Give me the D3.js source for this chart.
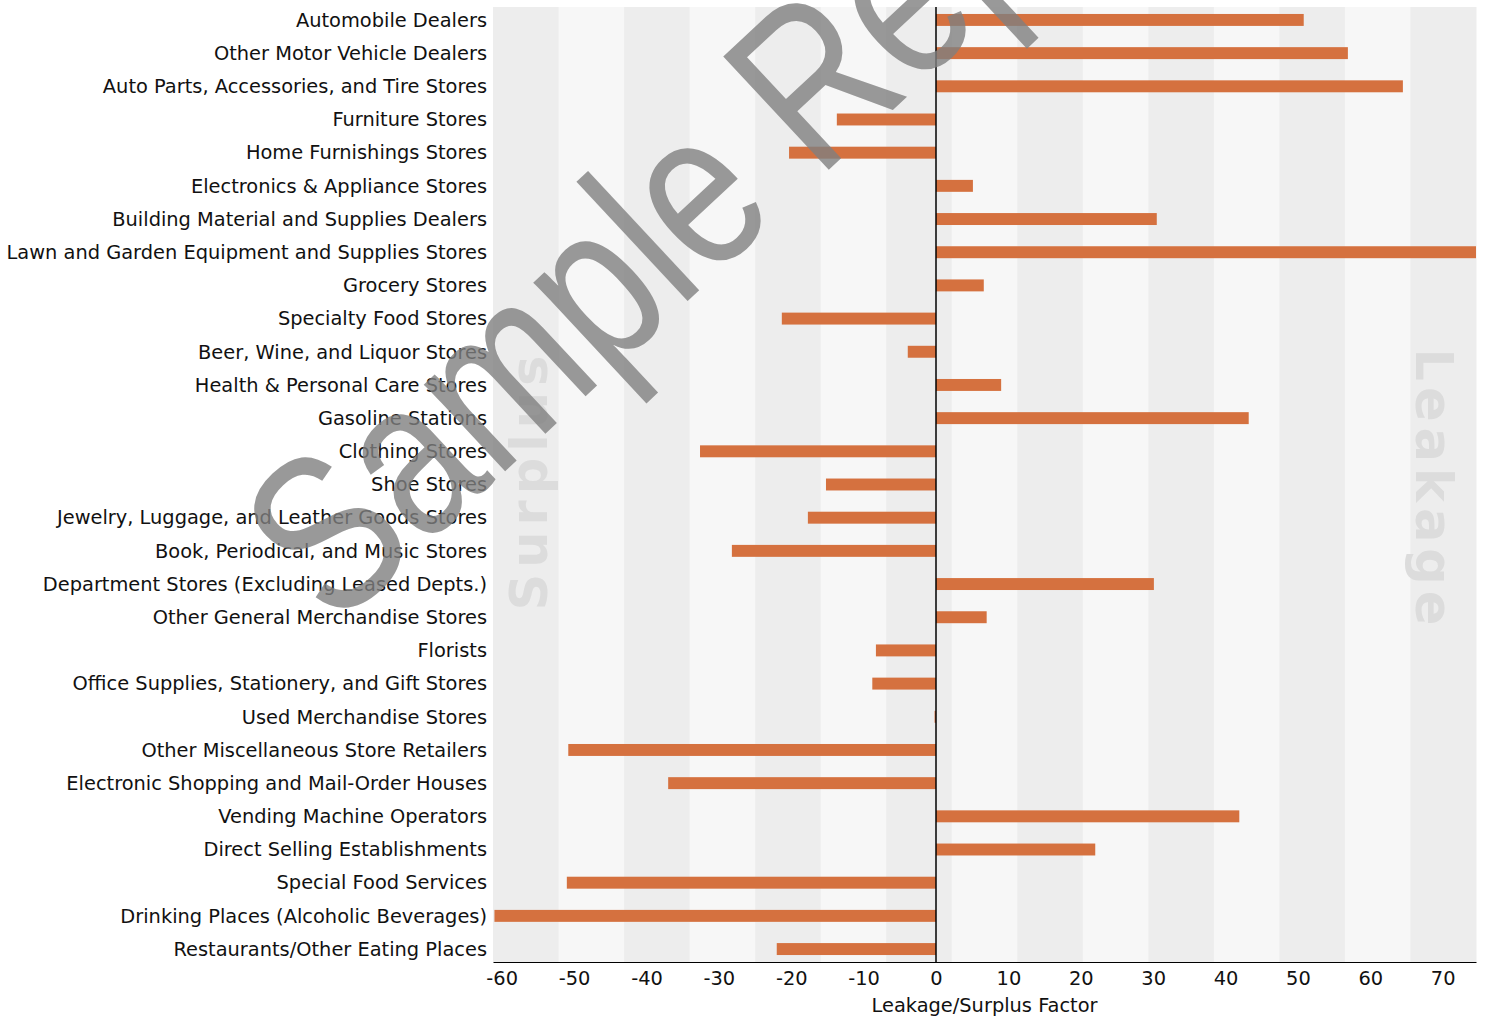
<!DOCTYPE html>
<html>
<head>
<meta charset="utf-8">
<script src="https://d3js.org/d3.v7.min.js"></script>
<style>
  body { margin: 0; background: #fff; }
  svg { display: block; }
  text { font-family: "DejaVu Sans", Verdana, sans-serif; }
</style>
</head>
<body>
<svg id="chart" width="1486" height="1016"></svg>
<script>
var categories = [
  'Automobile Dealers',
  'Other Motor Vehicle Dealers',
  'Auto Parts, Accessories, and Tire Stores',
  'Furniture Stores',
  'Home Furnishings Stores',
  'Electronics & Appliance Stores',
  'Building Material and Supplies Dealers',
  'Lawn and Garden Equipment and Supplies Stores',
  'Grocery Stores',
  'Specialty Food Stores',
  'Beer, Wine, and Liquor Stores',
  'Health & Personal Care Stores',
  'Gasoline Stations',
  'Clothing Stores',
  'Shoe Stores',
  'Jewelry, Luggage, and Leather Goods Stores',
  'Book, Periodical, and Music Stores',
  'Department Stores (Excluding Leased Depts.)',
  'Other General Merchandise Stores',
  'Florists',
  'Office Supplies, Stationery, and Gift Stores',
  'Used Merchandise Stores',
  'Other Miscellaneous Store Retailers',
  'Electronic Shopping and Mail-Order Houses',
  'Vending Machine Operators',
  'Direct Selling Establishments',
  'Special Food Services',
  'Drinking Places (Alcoholic Beverages)',
  'Restaurants/Other Eating Places'
];

var factors = [
  50.8, 56.9, 64.5, -13.7, -20.3, 5.1, 30.5, 75.0, 6.6, -21.3,
  -3.9, 9.0, 43.2, -32.6, -15.2, -17.7, -28.2, 30.1, 7.0, -8.3,
  -8.8, -0.2, -50.8, -37.0, 41.9, 22.0, -51.0, -61.0, -22.0
];

var xTicks = [-60, -50, -40, -30, -20, -10, 0, 10, 20, 30, 40, 50, 60, 70];
var xDomain = [-61.2, 74.6];

(function () {
  var svg = d3.select('#chart'),
      pl = 493, pr = 1476, pt = 7, pb = 962;

  var x = d3.scaleLinear().domain(xDomain).range([pl, pr]);
  var y = d3.scaleBand().domain(categories).range([pt, pb])
    .paddingInner(0.64).paddingOuter(0.21);

  svg.append('clipPath').attr('id', 'plotclip')
    .append('rect').attr('x', pl).attr('y', pt)
    .attr('width', pr - pl).attr('height', pb - pt);

  // alternating background stripes
  var nStripes = 15, sw = (pr - pl) / nStripes;
  svg.append('g').selectAll('rect')
    .data(d3.range(nStripes))
    .join('rect')
    .attr('x', function (i) { return pl + i * sw; })
    .attr('y', pt)
    .attr('width', sw + 0.5)
    .attr('height', pb - pt)
    .attr('fill', function (i) { return i % 2 ? '#f7f7f7' : '#ededed'; });

  // faint side labels
  svg.append('text')
    .attr('transform', 'translate(547,480) rotate(-90)')
    .attr('text-anchor', 'middle')
    .style('font-weight', 'bold').style('font-size', '51px')
    .style('letter-spacing', '6px')
    .attr('fill', '#dcdcdc')
    .text('Surplus');

  svg.append('text')
    .attr('transform', 'translate(1416,490) rotate(90)')
    .attr('text-anchor', 'middle')
    .style('font-weight', 'bold').style('font-size', '51px')
    .style('letter-spacing', '6px')
    .attr('fill', '#dcdcdc')
    .text('Leakage');

  // bars
  svg.append('g').attr('clip-path', 'url(#plotclip)')
    .selectAll('rect')
    .data(factors)
    .join('rect')
    .attr('x', function (d) { return x(Math.min(0, d)); })
    .attr('y', function (d, i) { return y(categories[i]); })
    .attr('width', function (d) { return Math.abs(x(d) - x(0)); })
    .attr('height', y.bandwidth())
    .attr('fill', '#d5713f');

  // zero line
  svg.append('line')
    .attr('x1', x(0)).attr('x2', x(0))
    .attr('y1', pt).attr('y2', pb)
    .attr('stroke', '#000').attr('stroke-width', 1.5);

  // category labels
  svg.append('g').selectAll('text')
    .data(categories)
    .join('text')
    .attr('x', pl - 6)
    .attr('y', function (d) { return y(d) + y.bandwidth() / 2; })
    .attr('dy', '0.35em')
    .attr('text-anchor', 'end')
    .style('font-size', '19.4px')
    .attr('fill', '#111')
    .text(function (d) { return d; });

  // x axis
  var xAxis = svg.append('g')
    .attr('transform', 'translate(0,' + pb + ')')
    .call(d3.axisBottom(x).tickValues(xTicks).tickFormat(String)
      .tickSize(0).tickPadding(9));
  xAxis.select('.domain').attr('stroke', '#000').attr('stroke-width', 1.2);
  xAxis.selectAll('text')
    .style('font-family', '"DejaVu Sans", Verdana, sans-serif')
    .style('font-size', '19.4px')
    .attr('fill', '#111');

  svg.append('text')
    .attr('x', (pl + pr) / 2)
    .attr('y', 1012)
    .attr('text-anchor', 'middle')
    .style('font-size', '19.4px')
    .attr('fill', '#111')
    .text('Leakage/Surplus Factor');

  // watermark
  svg.append('text')
    .attr('transform', 'translate(335,630) rotate(-43) scale(0.8,1)')
    .style('font-family', '"Liberation Sans", Arial, sans-serif')
    .style('font-size', '225px')
    .attr('fill', '#808080')
    .attr('fill-opacity', 0.8)
    .text('Sample Report');
})();
</script>
</body>
</html>
